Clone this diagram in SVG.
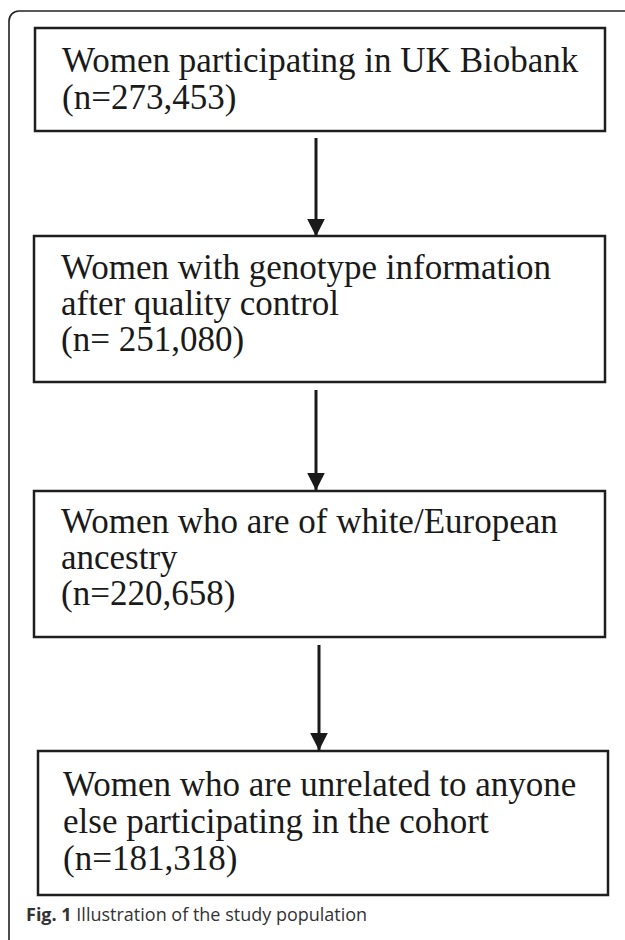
<svg xmlns="http://www.w3.org/2000/svg" width="625" height="940" viewBox="0 0 625 940">
<style>
.box{fill:#fff;stroke:#1e1e1e;stroke-width:2.5}
.t{font-family:"Liberation Serif","Times New Roman",serif;font-size:35px;fill:#1a1a1a}
.cap{font-family:"Open Sans","Noto Sans",sans-serif;font-size:18px;fill:#333}
.conn line{stroke:#1a1a1a;stroke-width:3}
</style>
<defs>
<marker id="ah" markerWidth="6" markerHeight="6" refX="5.8" refY="3" orient="auto" markerUnits="strokeWidth">
<path d="M0,0 L6,3 L0,6 Z" fill="#1a1a1a"/>
</marker>
</defs>
<rect x="0" y="0" width="625" height="940" fill="#fff"/>
<rect x="9" y="11" width="640" height="940" rx="10" fill="none" stroke="#222" stroke-width="1.6"/>
<g id="n1">
<rect class="box" x="35" y="28" width="570" height="103"/>
<text class="t" x="62" y="72">Women participating in UK Biobank</text>
<text class="t" x="62" y="109">(n=273,453)</text>
</g>
<g id="n2">
<rect class="box" x="34" y="236" width="571" height="146"/>
<text class="t" x="61" y="279">Women with genotype information</text>
<text class="t" x="61" y="315">after quality control</text>
<text class="t" x="61" y="351">(n= 251,080)</text>
</g>
<g id="n3">
<rect class="box" x="34" y="491" width="571" height="146"/>
<text class="t" x="61" y="533">Women who are of white/European</text>
<text class="t" x="61" y="569">ancestry</text>
<text class="t" x="61" y="605">(n=220,658)</text>
</g>
<g id="n4">
<rect class="box" x="38" y="751" width="570" height="144"/>
<text class="t" x="63" y="796">Women who are unrelated to anyone</text>
<text class="t" x="63" y="833">else participating in the cohort</text>
<text class="t" x="63" y="870">(n=181,318)</text>
</g>
<g id="connectors" class="conn">
<line x1="316" y1="138" x2="316" y2="236" marker-end="url(#ah)"/>
<line x1="316" y1="390" x2="316" y2="490" marker-end="url(#ah)"/>
<line x1="319" y1="645" x2="319" y2="750" marker-end="url(#ah)"/>
</g>
<text class="cap" x="26" y="921"><tspan font-weight="bold">Fig. 1</tspan> Illustration of the study population</text>
</svg>
